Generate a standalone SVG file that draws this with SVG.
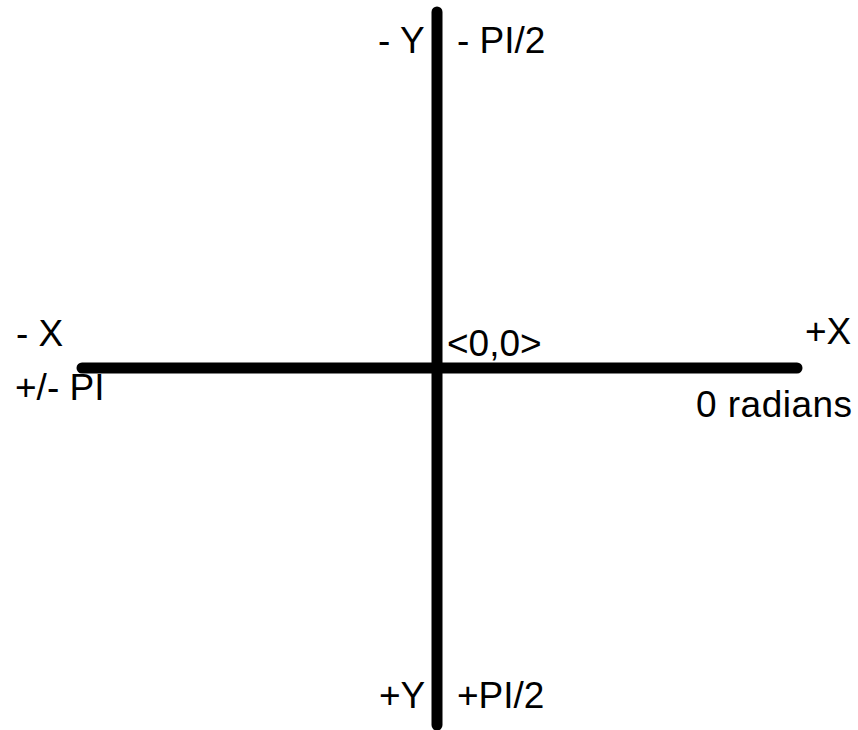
<svg xmlns="http://www.w3.org/2000/svg" width="858" height="730" viewBox="0 0 858 730">
<style>
.t{font-family:"Liberation Sans",Arial,sans-serif;font-size:37px;fill:#000}
.ax{stroke:#000;stroke-width:11;stroke-linecap:round;fill:none}
</style>
<rect width="858" height="730" fill="#fff"/>
<g id="axes">
<line class="ax" x1="437" y1="12" x2="437" y2="725"/>
<line class="ax" x1="82" y1="368" x2="797" y2="368"/>
</g>
<g id="labels">
<text class="t" x="378" y="53">- Y</text>
<text class="t" x="457" y="53">- PI/2</text>
<text class="t" x="16" y="346">- X</text>
<text class="t" x="447" y="356">&lt;0,0&gt;</text>
<text class="t" x="805" y="344">+X</text>
<text class="t" x="15" y="400">+/- PI</text>
<text class="t" x="696" y="417" textLength="156" lengthAdjust="spacing">0 radians</text>
<text class="t" x="379" y="708">+Y</text>
<text class="t" x="457" y="708">+PI/2</text>
</g>
</svg>
